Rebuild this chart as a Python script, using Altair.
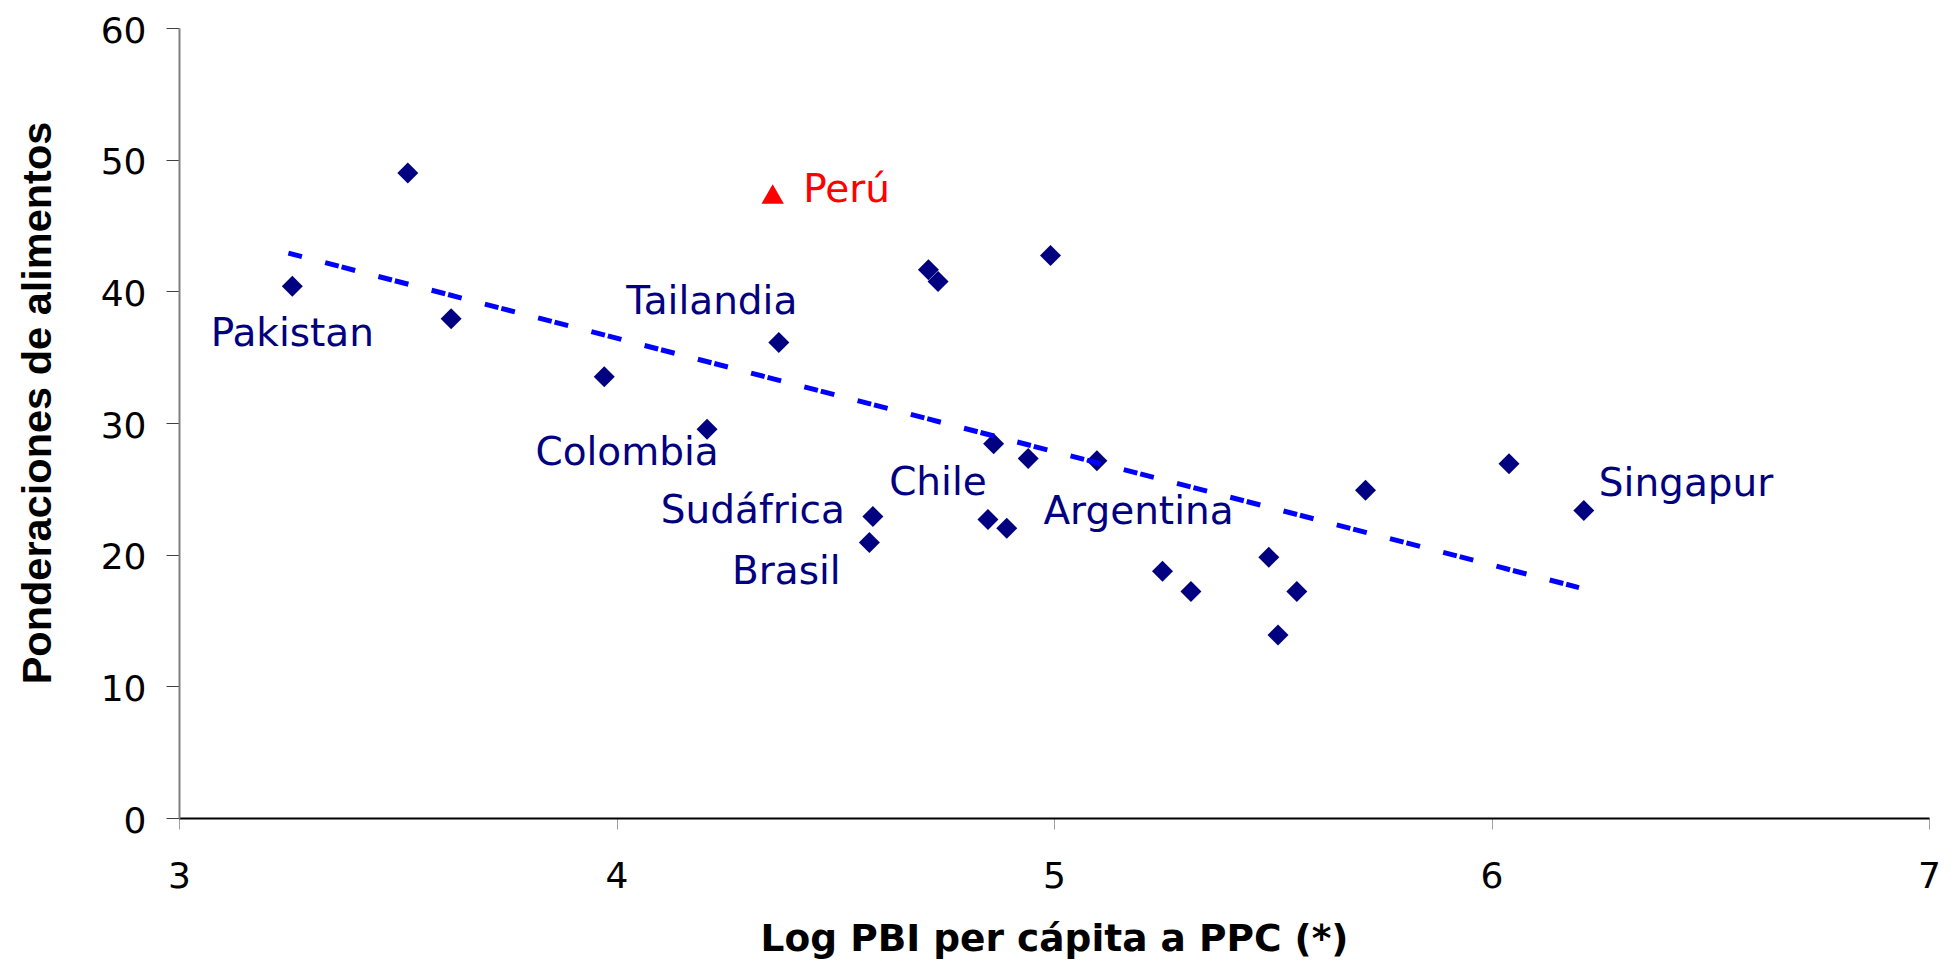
import altair as alt
import pandas as pd

# ---- data ----
countries = ["Pakistan", "", "", "", "Colombia", "Tailandia", "Brasil", "Sudáfrica",
             "", "", "Chile", "", "", "", "", "", "Argentina", "", "", "", "", "", "",
             "Singapur"]
log_gdp = [3.259, 3.523, 3.622, 3.972, 4.207, 4.371, 4.578, 4.586,
           4.713, 4.735, 4.849, 4.862, 4.892, 4.941, 4.992, 5.098, 5.248, 5.313,
           5.491, 5.512, 5.555, 5.712, 6.040, 6.211]
food_weight = [40.38, 48.98, 37.92, 33.51, 29.53, 36.12, 20.92, 22.90,
               41.64, 40.75, 22.67, 28.42, 22.01, 27.30, 42.73, 27.13, 18.74, 17.20,
               19.80, 13.90, 17.20, 24.90, 26.90, 23.35]

peru_name = ["Perú"]
peru_log_gdp = [4.357]
peru_food_weight = [47.39]

trend_log_gdp = [3.25, 6.20]
trend_food_weight = [42.9, 17.5]

x_ticks = [3, 4, 5, 6, 7]
y_ticks = [0, 10, 20, 30, 40, 50, 60]

x_title = "Log PBI per cápita a PPC (*)"
y_title = "Ponderaciones de alimentos"

points = pd.DataFrame({"pais": countries, "x": log_gdp, "y": food_weight})
peru = pd.DataFrame({"pais": peru_name, "x": peru_log_gdp, "y": peru_food_weight})
trend = pd.DataFrame({"x": trend_log_gdp, "y": trend_food_weight})

# ---- layout ----
W, H = 1750, 790
NAVY = "#000080"

xs = alt.Scale(domain=[3, 7], nice=False, zero=False)
ys = alt.Scale(domain=[0, 60], nice=False)

x_axis = alt.Axis(
    values=x_ticks, title=x_title, grid=False, format="d",
    domainColor="#000000", domainWidth=2,
    tickColor="#a0a0a0", tickWidth=1, tickSize=11,
    labelFont="DejaVu Sans", labelFontSize=36, labelColor="#000000",
    labelPadding=30, labelFlush=False, labelOverlap=False,
    titleFont="DejaVu Sans", titleFontSize=37.5, titleFontWeight="bold",
    titleColor="#000000", titleX=W / 2, titleY=132, titleAlign="center",
    titleBaseline="alphabetic",
)
y_axis = alt.Axis(
    values=y_ticks, title=y_title, grid=False, format="d",
    domainColor="#808080", domainWidth=2,
    tickColor="#404040", tickWidth=1, tickSize=13,
    labelFont="DejaVu Sans", labelFontSize=36, labelColor="#000000",
    labelPadding=20, labelOffset=3, labelFlush=False, labelOverlap=False,
    titleFont="Liberation Sans", titleFontSize=41.5, titleFontWeight="bold",
    titleColor="#000000", titleX=-129, titleY=374.5, titleAlign="center",
    titleBaseline="alphabetic", titleAngle=270,
)

base_x = alt.X("x:Q", scale=xs, axis=x_axis)
base_y = alt.Y("y:Q", scale=ys, axis=y_axis)

diamonds = alt.Chart(points).mark_point(
    shape="diamond", filled=True, size=440, color=NAVY, opacity=1
).encode(x=base_x, y=base_y)

peru_pt = alt.Chart(peru).mark_point(
    shape="triangle-up", filled=True, size=500, color="#ff0000", opacity=1
).encode(x=alt.X("x:Q", scale=xs), y=alt.Y("y:Q", scale=ys))

trend_line = alt.Chart(trend).mark_line(
    color="#0000ff", strokeWidth=5, strokeDash=[14, 3, 14, 24],
    strokeDashOffset=17, strokeCap="butt"
).encode(x=alt.X("x:Q", scale=xs), y=alt.Y("y:Q", scale=ys))

label_style = {
    "Pakistan": ("center", 0, 60),
    "Tailandia": ("center", -67, -28),
    "Colombia": ("center", -80, 36),
    "Sudáfrica": ("center", -120, 7),
    "Brasil": ("center", -83, 41),
    "Chile": ("center", -50, -25),
    "Argentina": ("center", -24, -47),
    "Singapur": ("left", 15, -15),
}

label_layers = []
for name, (al, ddx, ddy) in label_style.items():
    label_layers.append(
        alt.Chart(points).transform_filter(alt.datum.pais == name).mark_text(
            align=al, baseline="alphabetic", dx=ddx, dy=ddy,
            font="DejaVu Sans", fontSize=39, color=NAVY
        ).encode(x=alt.X("x:Q", scale=xs), y=alt.Y("y:Q", scale=ys), text="pais:N")
    )

peru_label = alt.Chart(peru).mark_text(
    align="left", baseline="alphabetic", dx=30.5, dy=8,
    font="DejaVu Sans", fontSize=39, color="#ff0000"
).encode(x=alt.X("x:Q", scale=xs), y=alt.Y("y:Q", scale=ys), text="pais:N")

chart = alt.layer(
    diamonds, peru_pt, trend_line, *label_layers, peru_label
).properties(
    width=W, height=H,
    padding={"left": 171, "top": 20, "right": 14, "bottom": 142},
    autosize=alt.AutoSizeParams(type="none"),
    background="#ffffff",
).configure_view(stroke=None)

chart.save("out.html", embed_options={"renderer": "svg", "actions": False})
